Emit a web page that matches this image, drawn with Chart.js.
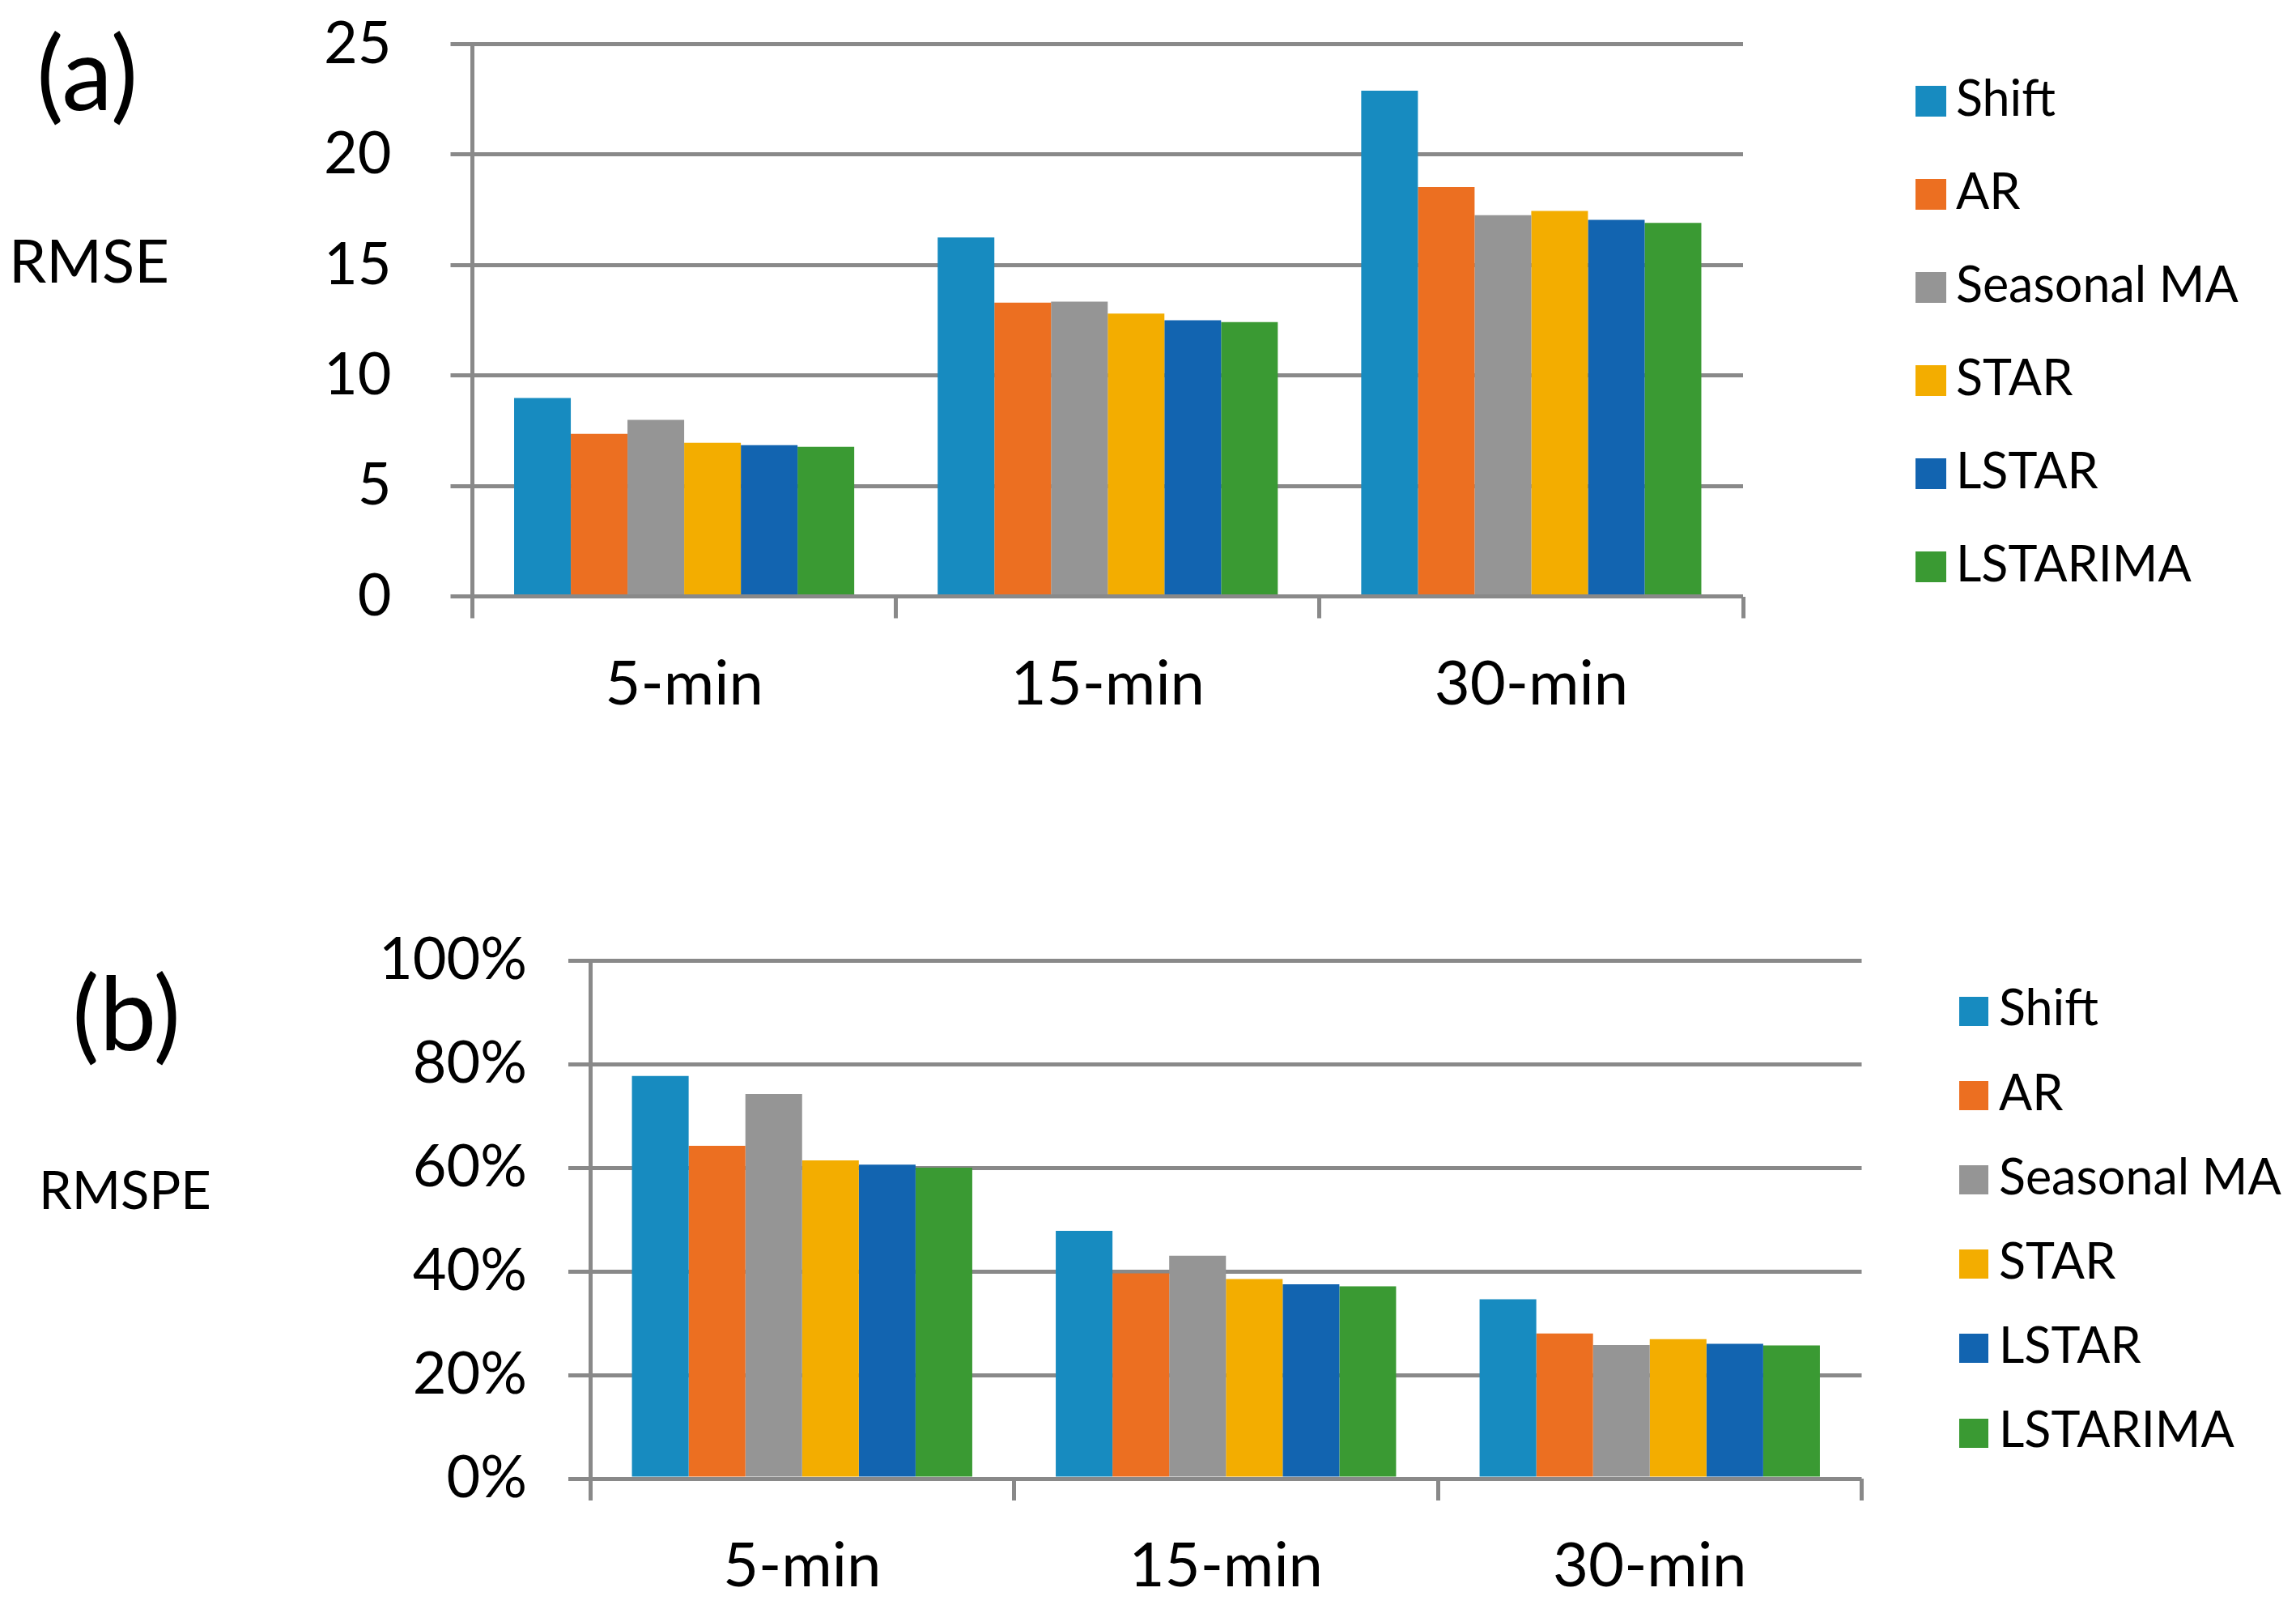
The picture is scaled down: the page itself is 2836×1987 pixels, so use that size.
<!DOCTYPE html>
<html>
<head>
<meta charset="utf-8">
<script src="https://cdn.jsdelivr.net/npm/chart.js@4.4.0/dist/chart.umd.min.js"></script>
<style>
html,body{margin:0;padding:0;background:#fff;}
#page{position:relative;width:2836px;height:1987px;background:#fff;font-family:Lato,"Open Sans",sans-serif;color:#000;overflow:hidden;}
.txt{position:absolute;line-height:1;white-space:nowrap;}
.sq{position:absolute;}
canvas{position:absolute;left:0;}
</style>
</head>
<body>
<div id="page">
  <canvas id="chartA" width="2836" height="1073" style="top:-80px"></canvas>
  <canvas id="chartB" width="2836" height="994" style="top:993px"></canvas>
  <div class="txt" style="left:45px;top:25px;font-size:126px">(a)</div>
  <div class="txt" style="left:11px;top:284px;font-size:74px">RMSE</div>
  <div class="txt" style="left:89px;top:1186px;font-size:126px">(b)</div>
  <div class="txt" style="left:48px;top:1436px;font-size:65px">RMSPE</div>
  <div id="legA"></div>
  <div id="legB"></div>
</div>
<script>
// ---- data ----
const categories = ['5-min', '15-min', '30-min'];
const seriesNames = ['Shift', 'AR', 'Seasonal MA', 'STAR', 'LSTAR', 'LSTARIMA'];
const seriesColors = ['#178BC0', '#EC6F21', '#959595', '#F3AD00', '#1264B0', '#3A9A33'];

// RMSE values (panel a), one array per series, order = categories
const rmseShift    = [8.98, 16.25, 22.89];
const rmseAR       = [7.36, 13.30, 18.53];
const rmseSMA      = [7.99, 13.34, 17.26];
const rmseSTAR     = [6.96, 12.80, 17.45];
const rmseLSTAR    = [6.85, 12.50, 17.05];
const rmseLSTARIMA = [6.77, 12.42, 16.91];

// RMSPE values in percent (panel b)
const rmspeShift    = [77.7, 47.8, 34.6];
const rmspeAR       = [64.2, 39.6, 28.0];
const rmspeSMA      = [74.2, 43.0, 25.8];
const rmspeSTAR     = [61.4, 38.5, 26.9];
const rmspeLSTAR    = [60.6, 37.5, 26.0];
const rmspeLSTARIMA = [60.0, 37.1, 25.7];

// tick settings
const rmseTicks = {min: 0, max: 25, step: 5};
const rmspeTicks = {min: 0, max: 100, step: 20};

const rmseSeries = [rmseShift, rmseAR, rmseSMA, rmseSTAR, rmseLSTAR, rmseLSTARIMA];
const rmspeSeries = [rmspeShift, rmspeAR, rmspeSMA, rmspeSTAR, rmspeLSTAR, rmspeLSTARIMA];

// ---- styling ----
const GRID = '#898989';
Chart.defaults.font.family = 'Lato, "Open Sans", sans-serif';
Chart.defaults.color = '#000';

function buildDatasets(series) {
  return series.map((vals, i) => ({
    label: seriesNames[i],
    data: vals,
    backgroundColor: seriesColors[i],
    borderWidth: 0,
    barPercentage: 1.0,
    categoryPercentage: 0.803
  }));
}

function makeChart(id, series, ticks, area, canvasH, axH, fmt, labelPad) {
  const AXW = 300;
  return new Chart(document.getElementById(id), {
    type: 'bar',
    data: {labels: categories, datasets: buildDatasets(series)},
    options: {
      responsive: false,
      animation: false,
      devicePixelRatio: 1,
      layout: {padding: {left: area.left - AXW, right: 2836 - area.right, top: area.top, bottom: canvasH - area.bottom - axH}},
      plugins: {legend: {display: false}, tooltip: {enabled: false}},
      scales: {
        x: {
          grid: {offset: true, drawOnChartArea: false, drawTicks: true, color: GRID, tickColor: GRID, lineWidth: 5, tickLength: 27, tickWidth: 5},
          border: {display: false},
          ticks: {font: {size: 76}, color: '#000', padding: 36, maxRotation: 0},
          afterFit(s) { s.height = axH; }
        },
        y: {
          min: ticks.min, max: ticks.max,
          ticks: {stepSize: ticks.step, font: {size: 72}, color: '#000', padding: labelPad, callback: fmt},
          grid: {color: GRID, tickColor: GRID, lineWidth: 5, tickLength: 27, tickWidth: 5},
          border: {display: true, color: GRID, width: 5},
          afterFit(s) { s.width = AXW; }
        }
      }
    }
  });
}

// panel (a): canvas shifted up by 80px so the axis label padding fits above the plot
makeChart('chartA', rmseSeries, rmseTicks, {left: 583.5, right: 2153, top: 134.5, bottom: 816.5}, 1073, 200, v => String(v), 73);
makeChart('chartB', rmspeSeries, rmspeTicks, {left: 729, right: 2299.5, top: 193, bottom: 833}, 994, 160, v => v + '%', 51);

// ---- legends (HTML, built from series arrays) ----
function buildLegend(id, cfg) {
  const host = document.getElementById(id);
  seriesNames.forEach((name, i) => {
    const base = cfg.baseline0 + cfg.step * i;
    const sq = document.createElement('div');
    sq.className = 'sq';
    sq.style.left = cfg.sqLeft + 'px';
    sq.style.top = (base - cfg.sq) + 'px';
    sq.style.width = cfg.sq + 'px';
    sq.style.height = cfg.sq + 'px';
    sq.style.background = seriesColors[i];
    host.appendChild(sq);
    const t = document.createElement('div');
    t.className = 'txt';
    t.style.left = cfg.textLeft + 'px';
    t.style.fontSize = cfg.font + 'px';
    t.style.top = (base - 0.887 * cfg.font) + 'px';
    t.textContent = name;
    host.appendChild(t);
  });
}
buildLegend('legA', {baseline0: 143.5, step: 115, sqLeft: 2366, sq: 38, textLeft: 2416, font: 61});
buildLegend('legB', {baseline0: 1266.5, step: 104.2, sqLeft: 2420, sq: 36, textLeft: 2469, font: 61});
</script>
</body>
</html>
